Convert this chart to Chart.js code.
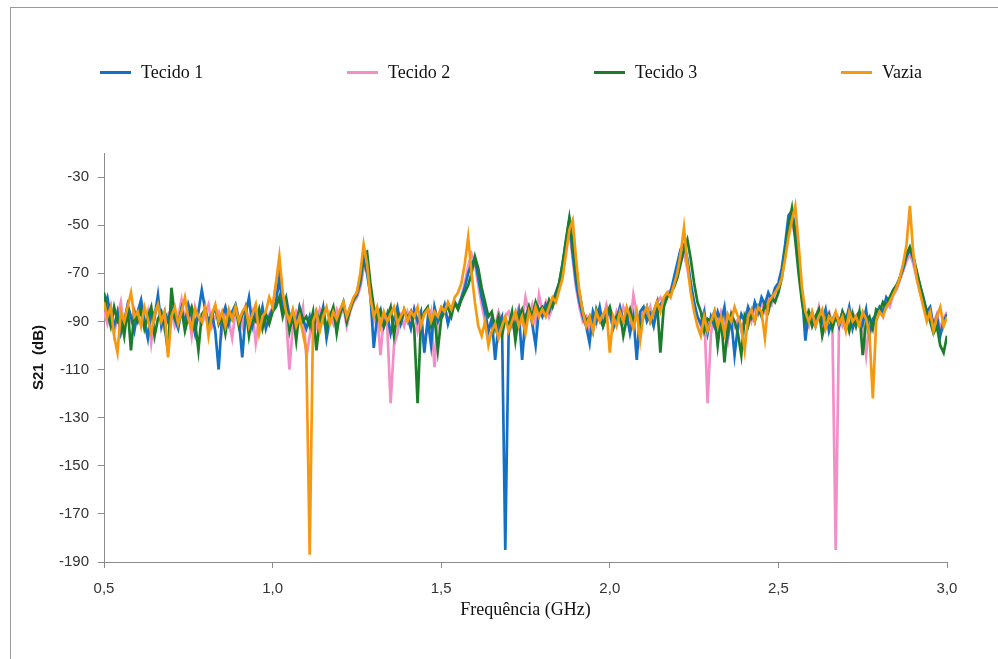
<!DOCTYPE html>
<html>
<head>
<meta charset="utf-8">
<script src="https://cdn.jsdelivr.net/npm/chart.js@4.4.1/dist/chart.umd.min.js"></script>
<style>
  html, body { margin: 0; padding: 0; background: #fff; overflow: hidden; }
  #frame { position: absolute; left: 10px; top: 7px; width: 1200px; height: 1000px; border: 1px solid #9a9a9a; }
  #wrap { position: absolute; left: 0; top: 0; width: 998px; height: 659px; }
  #legend { position: absolute; left: 100px; top: 61px; height: 22px; display: flex;
            font-family: "Liberation Serif", "Times New Roman", serif; font-size: 18px; color: #111; }
  .item { width: 247px; display: flex; align-items: center; line-height: 22px; }
  .item .mark { width: 31px; height: 3px; margin-right: 10px; }
</style>
</head>
<body>
<div id="frame"></div>
<div id="wrap">
  <canvas id="chart-s21" width="998" height="659"></canvas>
  <div id="legend"></div>
</div>
<script>
// sweep grid of the analyser, 0.5 .. 3.0 GHz, 251 points
var freqGHz = Array.from({length: 251}, (_, i) => +(0.5 + i * 0.01).toFixed(2));

var xTicks = [0.5, 1.0, 1.5, 2.0, 2.5, 3.0];
var yTicks = [-190, -170, -150, -130, -110, -90, -70, -50, -30];

// S21 [dB], one value per frequency point
var tecido1 = [
  -84,-80,-88,-92,-86,-95,-90,-83,-88,-94,
  -86,-81,-90,-97,-85,-88,-79,-92,-86,-90,
  -84,-89,-93,-85,-91,-83,-88,-95,-86,-77,
  -85,-90,-87,-94,-110,-88,-84,-91,-86,-83,
  -89,-105,-87,-80,-92,-86,-90,-84,-93,-88,
  -85,-82,-72,-84,-80,-88,-86,-91,-84,-89,
  -93,-88,-95,-86,-90,-84,-97,-89,-85,-92,
  -87,-83,-90,-84,-81,-79,-74,-64,-70,-79,
  -101,-88,-85,-92,-87,-95,-89,-84,-91,-86,
  -88,-93,-85,-90,-86,-103,-89,-100,-84,-90,
  -87,-83,-91,-86,-82,-84,-80,-76,-70,-66,
  -64,-72,-80,-86,-94,-89,-106,-91,-88,-185,
  -95,-89,-92,-86,-106,-88,-84,-91,-100,-85,
  -88,-83,-86,-82,-78,-74,-66,-57,-48,-62,
  -74,-82,-88,-92,-99,-86,-90,-84,-92,-88,
  -86,-93,-89,-84,-90,-87,-95,-88,-106,-86,
  -84,-90,-87,-92,-85,-83,-81,-79,-78,-72,
  -66,-60,-58,-64,-74,-82,-88,-91,-86,-95,
  -88,-92,-86,-90,-84,-96,-89,-104,-92,-87,
  -90,-84,-88,-82,-86,-80,-83,-78,-81,-76,
  -74,-68,-58,-46,-44,-52,-66,-78,-98,-86,
  -88,-92,-86,-90,-85,-94,-89,-87,-92,-86,
  -90,-84,-93,-88,-86,-91,-85,-96,-89,-87,
  -84,-86,-80,-82,-78,-76,-72,-68,-63,-60,
  -64,-70,-75,-80,-86,-84,-92,-88,-96,-90,-87
];
var tecido2 = [
  -86,-91,-84,-95,-88,-82,-93,-87,-90,-85,
  -89,-84,-92,-86,-99,-88,-83,-90,-94,-87,
  -85,-92,-88,-81,-90,-86,-96,-84,-89,-91,
  -87,-83,-92,-88,-86,-94,-85,-90,-97,-86,
  -88,-92,-84,-90,-86,-99,-88,-85,-91,-87,
  -84,-75,-65,-80,-88,-110,-92,-86,-90,-84,
  -105,-96,-88,-92,-85,-89,-94,-87,-91,-85,
  -88,-84,-92,-86,-82,-80,-76,-68,-66,-80,
  -90,-86,-104,-88,-92,-124,-100,-95,-88,-92,
  -86,-90,-85,-94,-88,-100,-91,-86,-109,-90,
  -88,-84,-90,-86,-83,-85,-80,-74,-67,-62,
  -66,-75,-83,-90,-95,-88,-92,-86,-90,-88,
  -86,-92,-88,-84,-90,-80,-87,-83,-91,-79,
  -86,-82,-88,-84,-80,-76,-69,-60,-52,-64,
  -76,-84,-90,-88,-94,-86,-91,-85,-89,-83,
  -88,-92,-86,-90,-84,-88,-93,-79,-87,-90,
  -85,-89,-84,-91,-82,-80,-83,-78,-77,-74,
  -70,-64,-62,-68,-76,-84,-88,-92,-86,-124,
  -95,-88,-92,-86,-90,-98,-87,-92,-89,-94,
  -88,-85,-90,-84,-87,-82,-86,-80,-83,-78,
  -76,-70,-62,-52,-48,-55,-68,-80,-88,-92,
  -86,-90,-84,-93,-88,-86,-91,-185,-89,-92,
  -88,-94,-86,-90,-87,-92,-104,-89,-91,-86,
  -85,-88,-82,-84,-79,-77,-73,-69,-65,-62,
  -66,-72,-78,-83,-88,-86,-91,-87,-93,-89,-86
];
var tecido3 = [
  -78,-86,-92,-84,-90,-88,-96,-84,-102,-86,
  -90,-85,-93,-88,-84,-96,-89,-86,-92,-103,
  -76,-88,-91,-85,-94,-88,-84,-90,-102,-87,
  -85,-93,-88,-84,-91,-87,-95,-86,-89,-84,
  -92,-87,-84,-96,-88,-90,-85,-93,-87,-91,
  -86,-84,-80,-88,-82,-94,-87,-98,-85,-90,
  -88,-92,-86,-102,-89,-85,-93,-88,-84,-95,
  -86,-82,-90,-85,-81,-78,-72,-62,-61,-74,
  -84,-89,-86,-92,-88,-84,-96,-87,-90,-85,
  -89,-86,-93,-124,-90,-86,-84,-92,-88,-102,
  -89,-86,-84,-88,-82,-85,-81,-78,-75,-70,
  -63,-68,-76,-82,-88,-86,-93,-88,-96,-89,
  -92,-86,-98,-88,-85,-91,-84,-88,-82,-86,
  -84,-86,-81,-84,-79,-74,-66,-56,-47,-58,
  -70,-78,-86,-90,-88,-94,-85,-89,-92,-87,
  -84,-90,-88,-86,-96,-89,-85,-91,-87,-93,
  -88,-84,-90,-86,-82,-103,-84,-80,-78,-76,
  -72,-66,-60,-56,-64,-74,-82,-86,-94,-89,
  -90,-86,-100,-88,-107,-92,-87,-90,-95,-104,
  -88,-92,-86,-90,-84,-88,-83,-86,-80,-82,
  -78,-72,-62,-50,-43,-56,-70,-82,-90,-86,
  -92,-88,-85,-96,-90,-87,-93,-88,-91,-86,
  -89,-94,-87,-92,-86,-104,-90,-88,-93,-85,
  -86,-82,-84,-80,-77,-75,-72,-67,-62,-59,
  -63,-69,-75,-81,-86,-90,-95,-92,-100,-103,-96
];
var vazia = [
  -82,-88,-84,-96,-103,-86,-90,-84,-78,-88,
  -86,-92,-84,-89,-95,-87,-83,-90,-86,-105,
  -88,-84,-91,-86,-80,-89,-93,-85,-88,-90,
  -84,-96,-87,-83,-90,-86,-92,-85,-89,-84,
  -90,-86,-84,-92,-87,-83,-95,-88,-86,-80,
  -84,-74,-63,-78,-86,-90,-85,-92,-88,-95,
  -102,-187,-90,-86,-94,-88,-84,-91,-86,-89,
  -85,-82,-88,-84,-80,-78,-70,-58,-66,-80,
  -88,-84,-92,-86,-90,-87,-84,-91,-88,-85,
  -90,-86,-88,-84,-92,-87,-85,-90,-86,-88,
  -84,-86,-82,-85,-80,-78,-74,-66,-55,-70,
  -82,-92,-96,-90,-100,-94,-91,-97,-92,-88,
  -94,-90,-86,-92,-88,-95,-86,-90,-84,-88,
  -85,-88,-84,-80,-82,-77,-72,-62,-52,-48,
  -64,-78,-86,-92,-88,-94,-86,-90,-87,-85,
  -103,-88,-92,-86,-90,-84,-88,-93,-86,-98,
  -87,-84,-90,-86,-82,-86,-80,-78,-80,-75,
  -70,-62,-51,-66,-78,-86,-92,-96,-88,-94,
  -90,-86,-92,-88,-95,-87,-90,-84,-88,-92,
  -102,-88,-85,-90,-84,-86,-97,-82,-80,-78,
  -76,-72,-64,-55,-48,-42,-58,-76,-86,-90,
  -86,-92,-88,-85,-93,-88,-90,-86,-91,-88,
  -94,-86,-90,-88,-92,-86,-89,-95,-122,-90,
  -86,-88,-84,-82,-79,-76,-72,-66,-58,-42,
  -62,-72,-78,-84,-90,-86,-94,-88,-84,-92,-88
];

function toPoints(values) {
  return freqGHz.map((f, i) => ({x: f, y: values[i]}));
}

function makeSet(label, values, color, order) {
  return {
    label: label,
    data: toPoints(values),
    borderColor: color,
    backgroundColor: color,
    borderWidth: 2.7,
    pointRadius: 0,
    tension: 0,
    order: order
  };
}

// legend drawn as html, from the datasets
var htmlLegend = {
  id: 'htmlLegend',
  afterUpdate(chart) {
    var box = document.getElementById('legend');
    box.innerHTML = '';
    chart.data.datasets.forEach(function(ds) {
      var item = document.createElement('div');
      item.className = 'item';
      var mark = document.createElement('span');
      mark.className = 'mark';
      mark.style.background = ds.borderColor;
      var txt = document.createElement('span');
      txt.textContent = ds.label;
      item.appendChild(mark);
      item.appendChild(txt);
      box.appendChild(item);
    });
  }
};

var tickFont = {family: '"Liberation Sans", Arial, sans-serif', size: 15};
var axisColor = '#8c8c8c';

var ctx = document.getElementById('chart-s21').getContext('2d');
var chart = new Chart(ctx, {
  type: 'line',
  data: {
    datasets: [
      makeSet('Tecido 1', tecido1, '#1470c4', 2),
      makeSet('Tecido 2', tecido2, '#f28fc6', 3),
      makeSet('Tecido 3', tecido3, '#1b7d2a', 1),
      makeSet('Vazia', vazia, '#f7990f', 0)
    ]
  },
  options: {
    responsive: false,
    animation: false,
    layout: { padding: {left: 0, right: 51, top: 153, bottom: 0} },
    plugins: {
      legend: { display: false },
      tooltip: { enabled: false }
    },
    scales: {
      x: {
        type: 'linear',
        min: 0.5,
        max: 3.0,
        afterBuildTicks: (s) => { s.ticks = xTicks.map(v => ({value: v})); },
        afterFit: (s) => { s.height = 97; },
        ticks: {
          font: tickFont, color: '#333', padding: 12,
          callback: (v) => Number(v).toFixed(1).replace('.', ',')
        },
        grid: { display: true, drawOnChartArea: false, drawTicks: true, tickLength: 6, color: axisColor },
        border: { display: true, color: axisColor },
        title: {
          display: true,
          text: 'Frequência (GHz)',
          color: '#111',
          font: {family: '"Liberation Serif", "Times New Roman", serif', size: 18},
          padding: {top: 0, bottom: 38}
        }
      },
      y: {
        min: -190,
        max: -20,
        afterBuildTicks: (s) => { s.ticks = yTicks.map(v => ({value: v})); },
        afterFit: (s) => { s.width = 104; },
        ticks: {
          font: tickFont, color: '#333', padding: 9,
          callback: (v) => String(v)
        },
        grid: { display: true, drawOnChartArea: false, drawTicks: true, tickLength: 6, color: axisColor },
        border: { display: true, color: axisColor },
        title: {
          display: true,
          text: 'S21  (dB)',
          color: '#111',
          font: {family: '"Liberation Sans", Arial, sans-serif', size: 15, weight: 'bold'},
          padding: {top: 30, bottom: 0}
        }
      }
    }
  },
  plugins: [htmlLegend]
});
</script>
</body>
</html>
